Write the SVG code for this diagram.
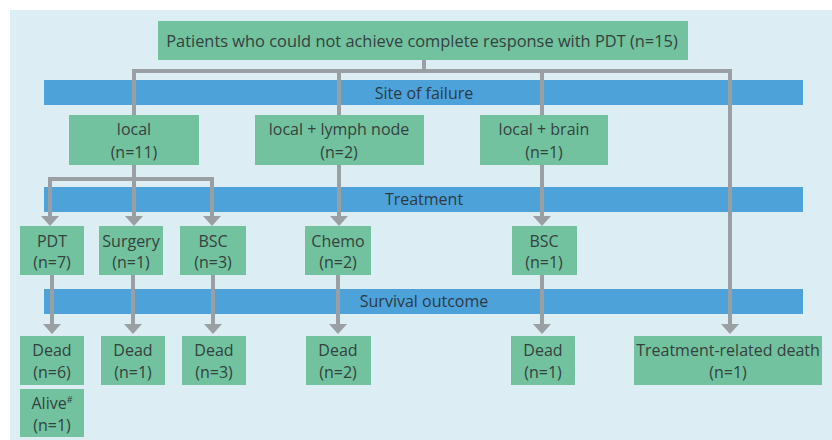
<svg xmlns="http://www.w3.org/2000/svg" width="832" height="440" viewBox="0 0 832 440">
<defs>
<style>
.bg{fill:#dcedf4}
.box{fill:#72c19f}
.band{fill:#4da2d9}
.t{font-family:"Open Sans","Liberation Sans",sans-serif;font-size:16px;fill:#34423e;text-anchor:middle}
.tt{font-size:16.4px}
.bt{font-family:"Open Sans","Liberation Sans",sans-serif;font-size:16px;fill:#2c3a44;text-anchor:middle}
.c{fill:none;stroke:#9a9fa3;stroke-width:4}
.ah{fill:#9a9fa3}
</style>
</defs>
<rect x="0" y="0" width="832" height="440" fill="#ffffff"/>
<rect class="bg" x="10" y="10" width="822" height="430"/>

<g id="bands">
<g id="band-site"><rect class="band" x="44" y="80" width="759" height="25"/><text class="bt" x="424" y="99">Site of failure</text></g>
<g id="band-treatment"><rect class="band" x="44" y="187" width="759" height="25"/><text class="bt" x="424" y="205">Treatment</text></g>
<g id="band-survival"><rect class="band" x="44" y="289" width="759" height="25"/><text class="bt" x="424" y="307">Survival outcome</text></g>
</g>

<g id="connectors">
<path class="c" d="M424,60 V71"/>
<path class="c" d="M134,115 V71 H730 V326"/>
<path class="c" d="M339,71 V115"/>
<path class="c" d="M542,71 V115"/>
<path class="c" d="M134,165 V179"/>
<path class="c" d="M50,216 V179 H212 V216"/>
<path class="c" d="M134,179 V216"/>
<path class="c" d="M339,165 V216"/>
<path class="c" d="M542,165 V216"/>
<path class="c" d="M52,275 V326"/>
<path class="c" d="M133,275 V326"/>
<path class="c" d="M213,275 V326"/>
<path class="c" d="M338,275 V326"/>
<path class="c" d="M542,275 V326"/>
<g class="ah">
<path d="M41,216 H59 L50,226 Z"/>
<path d="M125,216 H143 L134,226 Z"/>
<path d="M203,216 H221 L212,226 Z"/>
<path d="M330,216 H348 L339,226 Z"/>
<path d="M533,216 H551 L542,226 Z"/>
<path d="M43,324 H61 L52,334 Z"/>
<path d="M124,324 H142 L133,334 Z"/>
<path d="M204,324 H222 L213,334 Z"/>
<path d="M329,324 H347 L338,334 Z"/>
<path d="M533,324 H551 L542,334 Z"/>
<path d="M721,324 H739 L730,334 Z"/>
</g>
</g>

<g id="n-top"><rect class="box" x="158" y="21" width="530" height="39"/><text class="t tt" x="422" y="47">Patients who could not achieve complete response with PDT (n=15)</text></g>

<g id="n-local"><rect class="box" x="69" y="115" width="130" height="50"/><text class="t" x="134" y="135">local</text><text class="t" x="134" y="158">(n=11)</text></g>
<g id="n-lymph"><rect class="box" x="255" y="115" width="169" height="50"/><text class="t" x="339" y="135">local + lymph node</text><text class="t" x="339" y="158">(n=2)</text></g>
<g id="n-brain"><rect class="box" x="480" y="115" width="128" height="50"/><text class="t" x="544" y="135">local + brain</text><text class="t" x="544" y="158">(n=1)</text></g>

<g id="n-pdt"><rect class="box" x="20" y="226" width="64" height="49"/><text class="t" x="52" y="247">PDT</text><text class="t" x="52" y="268">(n=7)</text></g>
<g id="n-surgery"><rect class="box" x="99" y="226" width="64" height="49"/><text class="t" x="131" y="247">Surgery</text><text class="t" x="131" y="268">(n=1)</text></g>
<g id="n-bsc3"><rect class="box" x="180" y="226" width="66" height="49"/><text class="t" x="213" y="247">BSC</text><text class="t" x="213" y="268">(n=3)</text></g>
<g id="n-chemo"><rect class="box" x="305" y="226" width="66" height="49"/><text class="t" x="338" y="247">Chemo</text><text class="t" x="338" y="268">(n=2)</text></g>
<g id="n-bsc1"><rect class="box" x="512" y="226" width="65" height="49"/><text class="t" x="544" y="247">BSC</text><text class="t" x="544" y="268">(n=1)</text></g>

<g id="n-dead6"><rect class="box" x="20" y="336" width="64" height="49"/><text class="t" x="52" y="356">Dead</text><text class="t" x="52" y="378">(n=6)</text></g>
<g id="n-alive"><rect class="box" x="20" y="389" width="64" height="48"/><text class="t" x="52" y="409">Alive<tspan font-size="9" dy="-6">#</tspan></text><text class="t" x="52" y="431">(n=1)</text></g>
<g id="n-dead1a"><rect class="box" x="101" y="336" width="64" height="49"/><text class="t" x="133" y="356">Dead</text><text class="t" x="133" y="378">(n=1)</text></g>
<g id="n-dead3"><rect class="box" x="182" y="336" width="64" height="49"/><text class="t" x="214" y="356">Dead</text><text class="t" x="214" y="378">(n=3)</text></g>
<g id="n-dead2"><rect class="box" x="306" y="336" width="65" height="49"/><text class="t" x="338" y="356">Dead</text><text class="t" x="338" y="378">(n=2)</text></g>
<g id="n-dead1b"><rect class="box" x="511" y="336" width="64" height="49"/><text class="t" x="543" y="356">Dead</text><text class="t" x="543" y="378">(n=1)</text></g>
<g id="n-trd"><rect class="box" x="634" y="336" width="188" height="49"/><text class="t" x="728" y="356">Treatment-related death</text><text class="t" x="728" y="378">(n=1)</text></g>
</svg>
